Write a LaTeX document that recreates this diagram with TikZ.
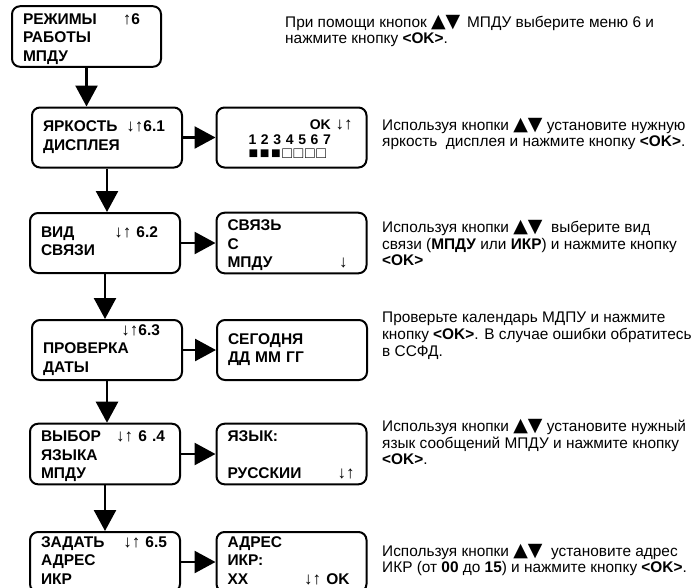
\documentclass[tikz,border=0pt]{standalone}
\usepackage{fontspec}
\setmainfont{Liberation Sans}
\newfontfamily\trifont{DejaVu Sans}
\usetikzlibrary{arrows.meta, positioning}

\tikzset{
  screen/.style={draw, line width=2pt, rounded corners=8pt,
    minimum width=150pt, minimum height=60pt, text width=128pt,
    inner xsep=11pt, inner ysep=0pt, align=left,
    font=\bfseries\fontsize{15.5}{18.5}\selectfont,
    execute at begin node=\strut, execute at end node=\strut},
  threeline/.style={execute at begin node={\rule{0pt}{18pt}}},
  hint/.style={anchor=west, inner sep=0pt, align=left,
    font=\fontsize{15.4}{16.8}\selectfont}
}
\newcommand{\updn}{{\mdseries\fontsize{17}{17}\selectfont ↓↑}}
\newcommand{\lcdtag}[2][0pt]{\hfill\mbox{#2\hspace{#1}}}
\newcommand{\lcdcell}[1]{\makebox[11.3pt][l]{#1}}
\newcommand{\keys}{{\trifont\fontsize{19}{16}\selectfont ▲▼}}

\begin{document}
\begin{tikzpicture}[x=1pt, y=1pt, >={Triangle[length=21pt, width=22pt]}]

\useasboundingbox (0,0) rectangle (698,-587);
\clip (0,0) rectangle (698,-587);

% menu screens
\node[screen, threeline, minimum width=149pt, text width=127pt] (m0) at (86.5,-36.5) {РЕЖИМЫ\lcdtag[10pt]{{\mdseries\fontsize{17}{17}\selectfont ↑}6}\\РАБОТЫ\\МПДУ};
\node[screen] (m1) at (107,-137.5) {ЯРКОСТЬ\lcdtag[6pt]{\updn6.1}\\ДИСПЛЕЯ};
\node[screen] (m2) at (105,-243) {ВИД\lcdtag[11pt]{\updn\ 6.2}\\СВЯЗИ};
\node[screen] (m3) at (107,-350) {\lcdtag[11pt]{\updn6.3}\\ПРОВЕРКА\\ДАТЫ};
\node[screen, threeline, minimum height=58pt] (m4) at (105,-454) {ВЫБОР\lcdtag[4pt]{\updn\ 6 .4}\\ЯЗЫКА\\МПДУ};
\node[screen] (m5) at (105,-562) {ЗАДАТЬ\lcdtag[2pt]{\updn\ 6.5}\\АДРЕС\\ИКР};

% setting screens
\node[screen, threeline, font=\bfseries\fontsize{14}{15}\selectfont] (s1) at (291.5,-137.5) {\lcdtag[3pt]{OK \updn}\\[0pt]\hspace*{21pt}1 2 3 4 5 6 7\\[-1pt]\hspace*{21pt}{\fontsize{16}{15}\selectfont\lcdcell{■}\lcdcell{■}\lcdcell{■}\lcdcell{□}\lcdcell{□}\lcdcell{□}\lcdcell{□}}};
\node[screen, threeline] (s2) at (291.5,-243) {СВЯЗЬ\\С\\МПДУ\lcdtag[8pt]{{\mdseries\fontsize{17}{17}\selectfont ↓}}};
\node[screen] (s3) at (292,-350) {СЕГОДНЯ\\ДД ММ ГГ};
\node[screen, threeline, minimum height=58pt] (s4) at (291.5,-454) {ЯЗЫК:\\\mbox{}\\РУССКИИ\lcdtag[1pt]{\updn}};
\node[screen] (s5) at (291.5,-562) {АДРЕС\\ИКР:\\XX\lcdtag[6pt]{\updn\ OK}};

% hints
\node[hint] (d0) at (285,-31) {При помощи кнопок \keys\ \,МПДУ выберите меню 6 и\\нажмите кнопку \textbf{<OK>}.};
\node[hint] (d1) at (382,-134) {Используя кнопки \keys\ установите нужную\\яркость \ дисплея и нажмите кнопку \textbf{<OK>}.};
\node[hint] (d2) at (382,-243) {Используя кнопки \keys\ \ выберите вид\\связи (\textbf{МПДУ} или \textbf{ИКР}) и нажмите кнопку\\\textbf{<OK>}};
\node[hint] (d3) at (382,-336) {Проверьте календарь МДПУ и нажмите\\кнопку \textbf{<OK>}. В случае ошибки обратитесь\\в ССФД.};
\node[hint] (d4) at (382,-442) {Используя кнопки \keys\ установите нужный\\язык сообщений МПДУ и нажмите кнопку\\\textbf{<OK>}.};
\node[hint] (d5) at (382,-560) {Используя кнопки \keys\ \ установите адрес\\ИКР (от \textbf{00} до \textbf{15}) и нажмите кнопку \textbf{<OK>}.};

\draw[->, line width=2.5pt] (m0.south) -- (m0.south |- m1.north);
\draw[->, line width=2.5pt] (m1.south) -- (m1.south |- m2.north);
\draw[->, line width=2.5pt] (m2.south) -- (m2.south |- m3.north);
\draw[->, line width=2.5pt] (m3.south) -- (m3.south |- m4.north);
\draw[->, line width=2.5pt] (m4.south) -- (m4.south |- m5.north);

\draw[->, line width=2.5pt] (m1.east) -- (s1.west);
\draw[->, line width=2.5pt] (m2.east) -- (s2.west);
\draw[->, line width=2.5pt] (m3.east) -- (s3.west);
\draw[->, line width=2.5pt] (m4.east) -- (s4.west);
\draw[->, line width=2.5pt] (m5.east) -- (s5.west);

\end{tikzpicture}
\end{document}
